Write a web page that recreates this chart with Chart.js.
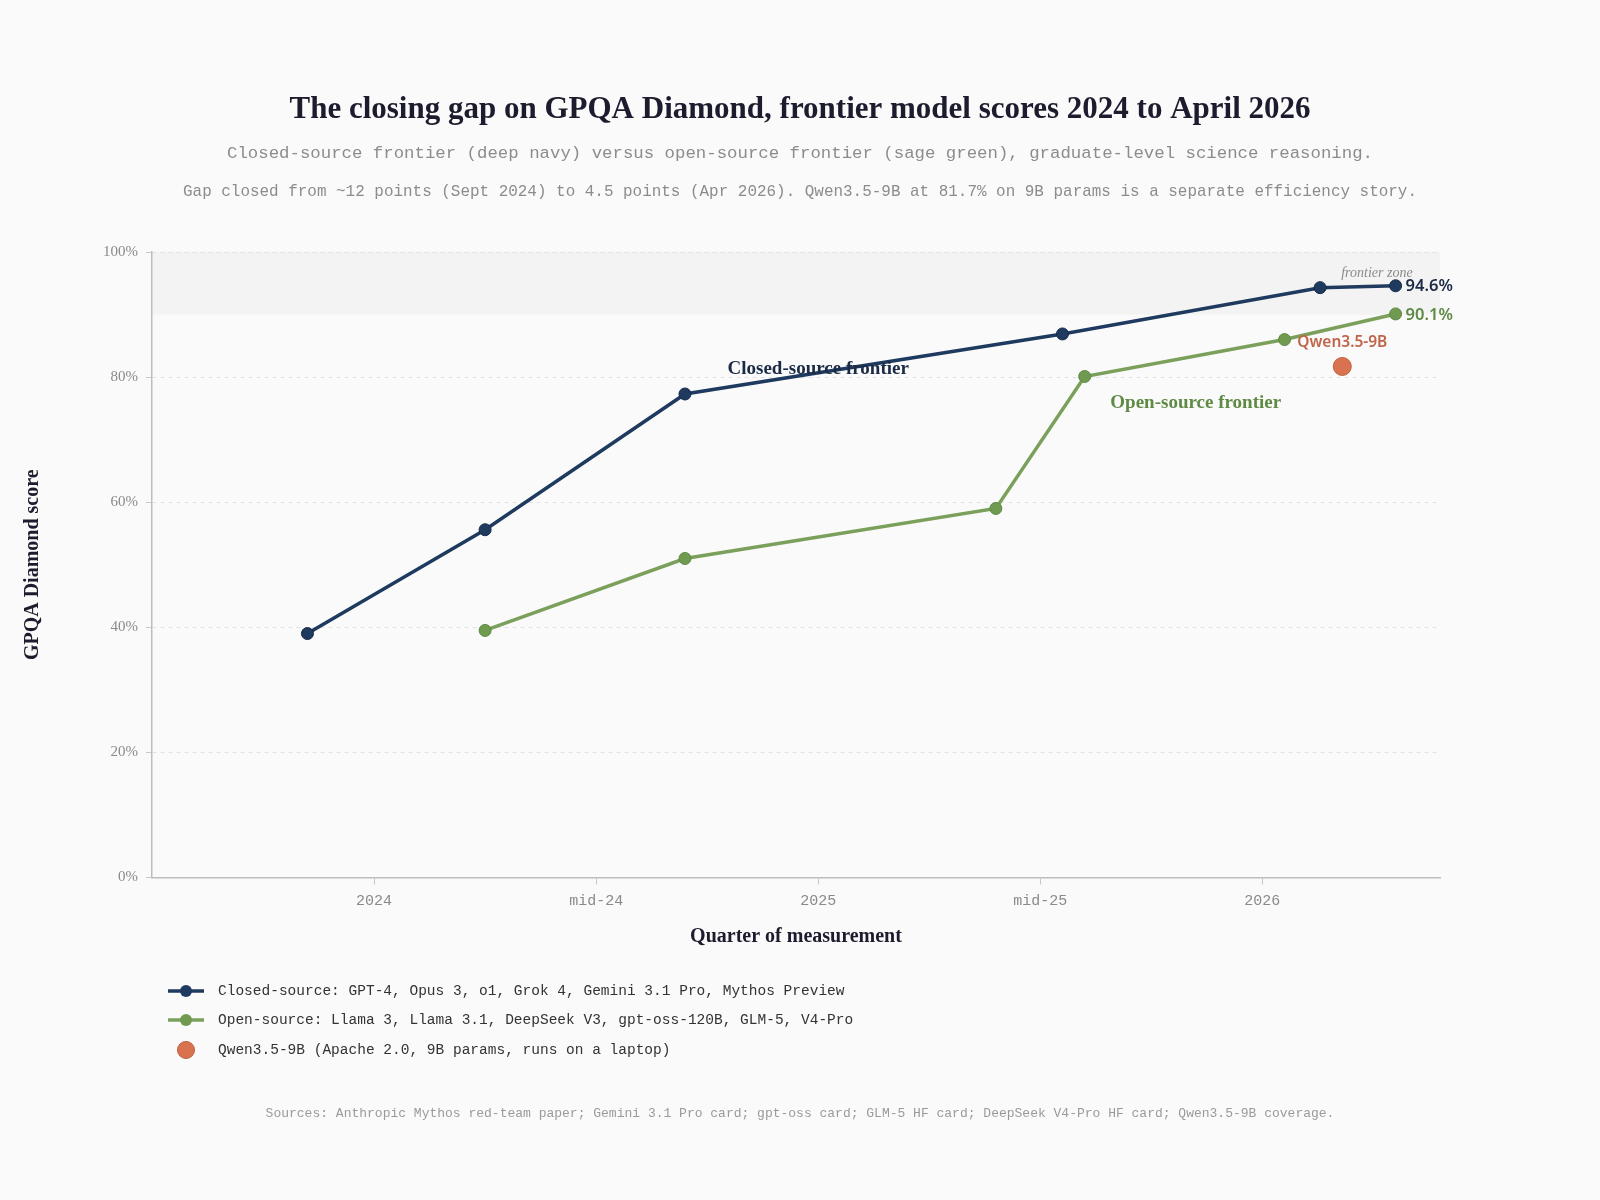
<!DOCTYPE html>
<html>
<head>
<meta charset="utf-8">
<title>GPQA Diamond closing gap</title>
<script src="https://cdn.jsdelivr.net/npm/chart.js@4.4.1/dist/chart.umd.min.js"></script>
<style>
  html, body { margin: 0; padding: 0; background: #fafafa; }
  #wrap { width: 1600px; height: 1200px; }
</style>
</head>
<body>
<div id="wrap"><canvas id="chart" width="1600" height="1200"></canvas></div>
<script>
// --- data (x = decimal year of measurement, y = GPQA Diamond %) ---
var closedDates  = [2023.85, 2024.25, 2024.70, 2025.55, 2026.13, 2026.30];
var closedScores = [39.0, 55.6, 77.3, 86.9, 94.3, 94.6];

var openDates  = [2024.25, 2024.70, 2025.40, 2025.60, 2026.05, 2026.30];
var openScores = [39.5, 51.0, 59.0, 80.1, 86.0, 90.1];

var qwenDates  = [2026.18];
var qwenScores = [81.7];

var xTickValues = [2024, 2024.5, 2025, 2025.5, 2026];
var xTickLabels = ['2024', 'mid-24', '2025', 'mid-25', '2026'];
var zoneRange = [90, 100];

var legendLabels = [
  'Closed-source: GPT-4, Opus 3, o1, Grok 4, Gemini 3.1 Pro, Mythos Preview',
  'Open-source: Llama 3, Llama 3.1, DeepSeek V3, gpt-oss-120B, GLM-5, V4-Pro',
  'Qwen3.5-9B (Apache 2.0, 9B params, runs on a laptop)'
];

// colours
var NAVY = '#1f3a5f', NAVY_TXT = '#1b2a45';
var GREEN = '#7ba05b', GREEN_PT = '#6f9a50', GREEN_TXT = '#5f8a44';
var QWEN = '#d9724f', QWEN_TXT = '#c0654a';

var SERIF = '"Liberation Serif", "Times New Roman", serif';
var MONO = '"Liberation Mono", "DejaVu Sans Mono", monospace';
var SANS = '"Noto Sans", "Open Sans", sans-serif';

function pts(xs, ys) {
  var out = [];
  for (var i = 0; i < xs.length; i++) out.push({ x: xs[i], y: ys[i] });
  return out;
}

var decor = {
  id: 'decor',
  beforeDraw: function (chart) {
    var ctx = chart.ctx, a = chart.chartArea, y = chart.scales.y;
    ctx.save();
    ctx.fillStyle = '#fafafa';
    ctx.fillRect(0, 0, chart.width, chart.height);
    // frontier zone band
    var t = y.getPixelForValue(zoneRange[1]), b = y.getPixelForValue(zoneRange[0]);
    ctx.fillStyle = '#f3f3f3';
    ctx.fillRect(a.left, t, a.right - a.left, b - t);
    ctx.restore();
  },
  afterDatasetsDraw: function (chart) {
    var ctx = chart.ctx, x = chart.scales.x, y = chart.scales.y;
    ctx.save();
    ctx.textBaseline = 'middle';

    // series names
    ctx.textAlign = 'center';
    ctx.font = 'bold 19px ' + SERIF;
    ctx.fillStyle = NAVY_TXT;
    ctx.fillText('Closed-source frontier', x.getPixelForValue(2025.0), y.getPixelForValue(81.3));
    ctx.fillStyle = GREEN_TXT;
    ctx.fillText('Open-source frontier', x.getPixelForValue(2025.85), y.getPixelForValue(75.9));

    ctx.font = 'italic 14px ' + SERIF;
    ctx.fillStyle = '#8a8a8a';
    ctx.fillText('frontier zone', x.getPixelForValue(2026.258), y.getPixelForValue(96.6));

    // end values
    var c = chart.getDatasetMeta(0).data, o = chart.getDatasetMeta(1).data, q = chart.getDatasetMeta(2).data;
    var cl = c[c.length - 1], ol = o[o.length - 1];
    ctx.textAlign = 'left';
    ctx.font = '600 16.5px ' + SANS;
    ctx.fillStyle = NAVY_TXT;
    ctx.fillText(closedScores[closedScores.length - 1].toFixed(1) + '%', cl.x + 10, cl.y + 1);
    ctx.fillStyle = GREEN_TXT;
    ctx.fillText(openScores[openScores.length - 1].toFixed(1) + '%', ol.x + 10, ol.y + 1);

    ctx.textAlign = 'center';
    ctx.font = '600 15.5px ' + SANS;
    ctx.fillStyle = QWEN_TXT;
    ctx.fillText('Qwen3.5-9B', q[0].x, q[0].y - 24);
    ctx.restore();
  },
  afterDraw: function (chart) {
    var ctx = chart.ctx;
    ctx.save();
    ctx.textAlign = 'center';
    ctx.textBaseline = 'middle';
    ctx.fillStyle = '#1c1c2e';
    ctx.font = 'bold 31px ' + SERIF;
    ctx.fillText('The closing gap on GPQA Diamond, frontier model scores 2024 to April 2026', 800, 110);

    ctx.fillStyle = '#8c8c8c';
    ctx.font = '17.4px ' + MONO;
    ctx.fillText('Closed-source frontier (deep navy) versus open-source frontier (sage green), graduate-level science reasoning.', 800, 153, 1146);
    ctx.font = '17px ' + MONO;
    ctx.fillText('Gap closed from ~12 points (Sept 2024) to 4.5 points (Apr 2026). Qwen3.5-9B at 81.7% on 9B params is a separate efficiency story.', 800, 191, 1234);

    // legend
    var rows = [991, 1020, 1050];
    ctx.textAlign = 'left';
    ctx.font = '14.5px ' + MONO;
    for (var i = 0; i < 3; i++) {
      var yy = rows[i];
      if (i < 2) {
        ctx.strokeStyle = i === 0 ? NAVY : GREEN;
        ctx.lineWidth = 3.5;
        ctx.beginPath(); ctx.moveTo(168, yy); ctx.lineTo(204, yy); ctx.stroke();
        ctx.fillStyle = i === 0 ? NAVY : GREEN_PT;
        ctx.beginPath(); ctx.arc(186, yy, 6, 0, Math.PI * 2); ctx.fill();
      } else {
        ctx.fillStyle = QWEN;
        ctx.strokeStyle = '#c0603f';
        ctx.lineWidth = 1;
        ctx.beginPath(); ctx.arc(186, yy, 8.5, 0, Math.PI * 2); ctx.fill(); ctx.stroke();
      }
      ctx.fillStyle = '#333333';
      ctx.fillText(legendLabels[i], 218, yy);
    }

    ctx.textAlign = 'center';
    ctx.fillStyle = '#9a9a9a';
    ctx.font = '13px ' + MONO;
    ctx.fillText('Sources: Anthropic Mythos red-team paper; Gemini 3.1 Pro card; gpt-oss card; GLM-5 HF card; DeepSeek V4-Pro HF card; Qwen3.5-9B coverage.', 800, 1114);
    ctx.restore();
  }
};

new Chart(document.getElementById('chart'), {
  type: 'line',
  data: {
    datasets: [
      {
        label: 'Closed-source',
        data: pts(closedDates, closedScores),
        borderColor: NAVY, borderWidth: 3.5,
        pointRadius: 6, pointBackgroundColor: NAVY, pointBorderColor: '#16294a', pointBorderWidth: 1,
        tension: 0, fill: false
      },
      {
        label: 'Open-source',
        data: pts(openDates, openScores),
        borderColor: GREEN, borderWidth: 3.5,
        pointRadius: 6, pointBackgroundColor: GREEN_PT, pointBorderColor: '#5d8a45', pointBorderWidth: 1,
        tension: 0, fill: false
      },
      {
        label: 'Qwen3.5-9B',
        data: pts(qwenDates, qwenScores),
        showLine: false,
        pointRadius: 9, pointBackgroundColor: QWEN, pointBorderColor: '#c0603f', pointBorderWidth: 1
      }
    ]
  },
  options: {
    responsive: false,
    animation: false,
    layout: { padding: { left: 20, right: 160, top: 252, bottom: 251 } },
    plugins: { legend: { display: false }, title: { display: false }, tooltip: { enabled: false } },
    scales: {
      x: {
        type: 'linear',
        min: 2023.5, max: 2026.4,
        afterBuildTicks: function (s) { s.ticks = xTickValues.map(function (v) { return { value: v }; }); },
        afterFit: function (s) { s.height = 71.5; },
        ticks: {
          padding: 8,
          color: '#8a8a8a',
          font: { family: MONO, size: 15 },
          callback: function (v) { var i = xTickValues.indexOf(v); return i >= 0 ? xTickLabels[i] : ''; }
        },
        grid: { drawOnChartArea: false, drawTicks: true, tickLength: 7, tickColor: '#c8c8c8', tickBorderDash: [] },
        border: { color: '#bdbdbd', width: 1.5 },
        title: {
          display: true, text: 'Quarter of measurement', color: '#1c1c2e',
          font: { family: SERIF, size: 20, weight: 'bold' }, padding: 0
        }
      },
      y: {
        min: 0, max: 100,
        afterFit: function (s) { s.width = 132; },
        ticks: {
          stepSize: 20, padding: 8, color: '#8a8a8a',
          font: { family: SERIF, size: 15 },
          callback: function (v) { return v + '%'; }
        },
        grid: { color: '#e2e2e2', tickLength: 6, tickColor: '#c8c8c8', tickBorderDash: [] },
        border: { color: '#bdbdbd', width: 1.5, dash: [4, 4] },
        title: {
          display: true, text: 'GPQA Diamond score', color: '#1c1c2e',
          font: { family: SERIF, size: 20, weight: 'bold' }, padding: { top: 1, bottom: 0 }
        }
      }
    }
  },
  plugins: [decor]
});
</script>
</body>
</html>
